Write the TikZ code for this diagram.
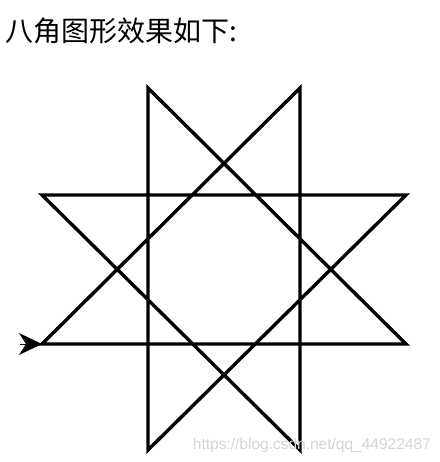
\documentclass[tikz,border=0pt]{standalone}
\usepackage{fontspec}
\usetikzlibrary{arrows.meta}
\newfontfamily\cjk{Noto Sans CJK SC}
\setsansfont{Liberation Sans}
\definecolor{markgray}{HTML}{D4D4D4}

\begin{document}
\begin{tikzpicture}[x=1pt,y=-1pt,
 title/.style={anchor=base west,inner sep=0pt,font=\cjk\fontsize{28}{28}\selectfont},
 watermark/.style={anchor=base east,inner sep=0pt,text=markgray,font=\sffamily\fontsize{15.5}{15.5}\selectfont},
 pen/.style={line width=3.4pt,line join=miter,line cap=butt}]
\useasboundingbox (0,0) rectangle (439,462);
\node[title] (head) at (5,42) {八角图形效果如下:};
% turtle path of the star
\coordinate (a) at (42,344);  \coordinate (b) at (406,344);
\coordinate (c) at (148,88);  \coordinate (d) at (148,450);
\coordinate (e) at (406,195); \coordinate (f) at (42,195);
\coordinate (g) at (300,450); \coordinate (h) at (300,88);
\draw[pen] (a)--(b)--(c)--(d)--(e)--(f)--(g)--(h)--cycle;
% turtle head
\coordinate (tail) at (20,344);
\draw[line width=0pt,-{Stealth[length=23pt,width=22pt,inset=7pt]}] (tail)--(a);
\node[watermark] (url) at (431,449) {https://blog.csdn.net/qq\_44922487};
\end{tikzpicture}
\end{document}
